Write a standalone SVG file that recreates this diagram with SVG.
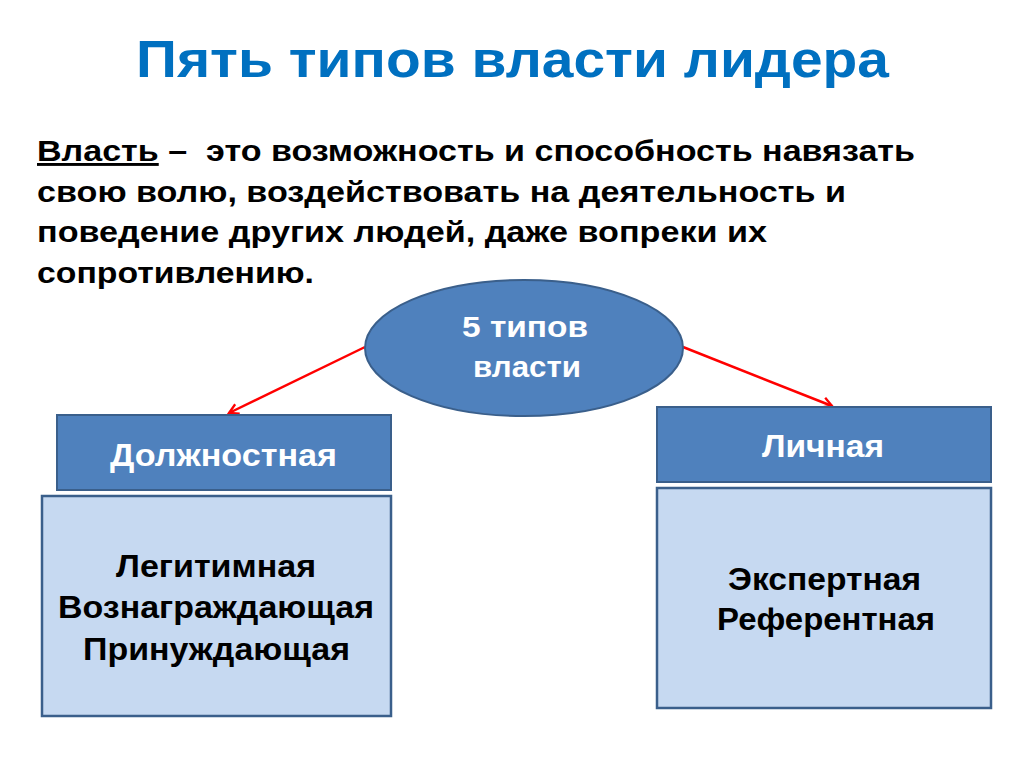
<svg xmlns="http://www.w3.org/2000/svg" width="1024" height="767" viewBox="0 0 1024 767">
<defs>
<style>
text{font-family:"Liberation Sans",Arial,sans-serif;font-weight:bold}
.title{font-size:52px;fill:#0070C0}
.para{font-size:29px;fill:#000;white-space:pre}
.hdr{fill:#4F81BD;stroke:#3A5F8B;stroke-width:2}
.body{fill:#C6D9F1;stroke:#3A5F8B;stroke-width:2.5}
.wt{fill:#fff}
.bt{fill:#000;font-size:32px}
.conn{stroke:#FF0000;stroke-width:2.5;fill:none;marker-end:url(#arr)}
</style>
<marker id="arr" viewBox="0 0 12 12" refX="10" refY="6" markerWidth="5" markerHeight="5" orient="auto" markerUnits="strokeWidth">
<path d="M1,1 L10,6 L1,11" fill="none" stroke="#FF0000" stroke-width="2.2"/>
</marker>
</defs>
<rect width="1024" height="767" fill="#fff"/>
<text class="title" x="136" y="77" textLength="753" lengthAdjust="spacingAndGlyphs">Пять типов власти лидера</text>
<g id="definition">
<text class="para" x="37" y="161" textLength="878" lengthAdjust="spacingAndGlyphs"><tspan text-decoration="underline">Власть</tspan> –  это возможность и способность навязать</text>
<text class="para" x="37" y="202" textLength="809" lengthAdjust="spacingAndGlyphs">свою волю, воздействовать на деятельность и</text>
<text class="para" x="37" y="242" textLength="730" lengthAdjust="spacingAndGlyphs">поведение других людей, даже вопреки их</text>
<text class="para" x="37" y="283" textLength="277" lengthAdjust="spacingAndGlyphs">сопротивлению.</text>
</g>
<g id="connectors">
<line class="conn" x1="365" y1="347" x2="229" y2="413"/>
<line class="conn" x1="683" y1="347" x2="832" y2="406"/>
</g>
<g id="root">
<ellipse cx="524" cy="348" rx="159" ry="68" fill="#4F81BD" stroke="#3A5F8B" stroke-width="2"/>
<text class="wt" x="462" y="337" font-size="29" textLength="126" lengthAdjust="spacingAndGlyphs">5 типов</text>
<text class="wt" x="473" y="377" font-size="29" textLength="108" lengthAdjust="spacingAndGlyphs">власти</text>
</g>
<g id="official">
<rect class="hdr" x="57" y="415" width="334" height="75"/>
<text class="wt" x="110" y="466" font-size="32" textLength="227" lengthAdjust="spacingAndGlyphs">Должностная</text>
</g>
<g id="official-list">
<rect class="body" x="42" y="496" width="349" height="220"/>
<text class="bt" x="116" y="577" textLength="200" lengthAdjust="spacingAndGlyphs">Легитимная</text>
<text class="bt" x="58" y="618" textLength="316" lengthAdjust="spacingAndGlyphs">Вознаграждающая</text>
<text class="bt" x="83" y="660" textLength="267" lengthAdjust="spacingAndGlyphs">Принуждающая</text>
</g>
<g id="personal">
<rect class="hdr" x="657" y="407" width="334" height="75"/>
<text class="wt" x="762" y="457" font-size="32" textLength="122" lengthAdjust="spacingAndGlyphs">Личная</text>
</g>
<g id="personal-list">
<rect class="body" x="657" y="488" width="334" height="220"/>
<text class="bt" x="728" y="590" textLength="193" lengthAdjust="spacingAndGlyphs">Экспертная</text>
<text class="bt" x="717" y="630" textLength="218" lengthAdjust="spacingAndGlyphs">Референтная</text>
</g>
</svg>
